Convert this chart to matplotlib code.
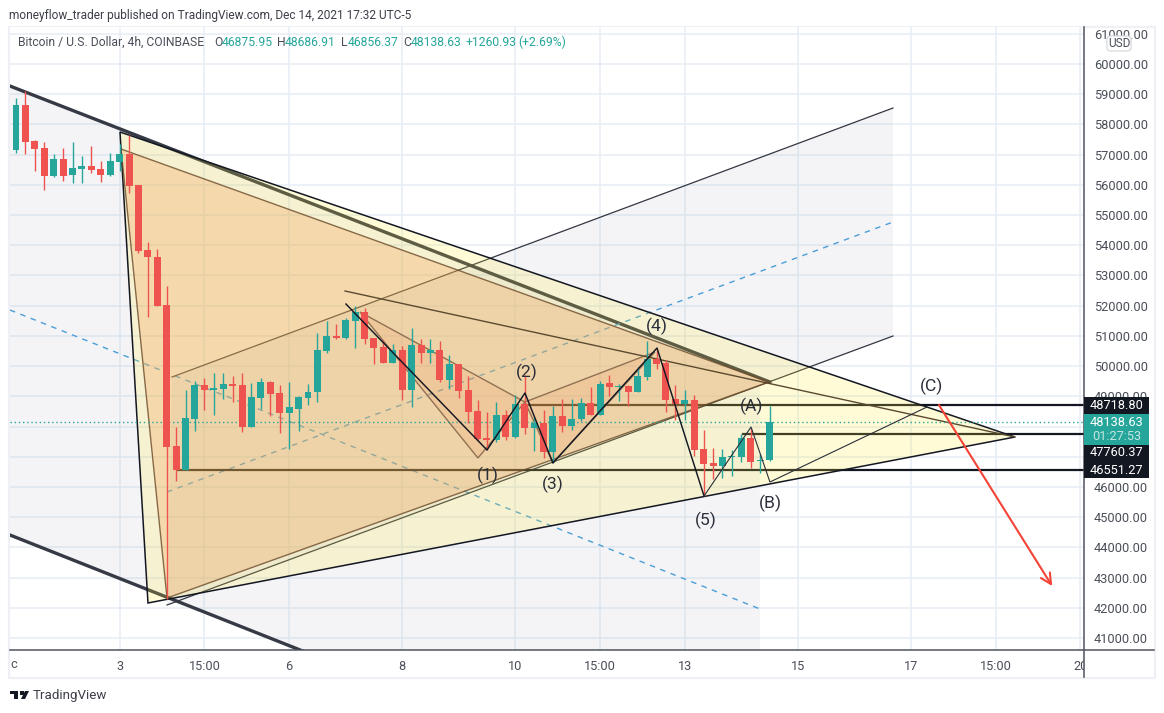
import matplotlib
matplotlib.use('Agg')
import matplotlib.pyplot as plt
from matplotlib.lines import Line2D
from matplotlib.patches import Rectangle, Polygon, FancyBboxPatch
from matplotlib.transforms import Bbox

plt.rcParams['font.family'] = ['Roboto', 'DejaVu Sans']

# 4h candles, Dec 2 2021 onward
opens = [57153, 58642, 57451, 57219, 56292, 56855, 56325, 56524, 56623, 56524, 56325, 56756, 57021, 55994,
         53843, 53611, 52022, 47355, 46561, 48249, 49374, 49209, 49242, 49408, 49374, 47984, 48944, 49474,
         49110, 48448, 48580, 48944, 49143, 50500, 50996, 50930, 51493, 51791, 50930, 50632, 50103, 50533,
         49209, 50698, 50434, 50533, 49540, 50070, 49209, 48514, 47620, 47554, 48381, 47653, 48746, 47951,
         48117, 47157, 48348, 48017, 48249, 48779, 48381, 49441, 49308, 49341, 49143, 49639, 50235, 50103,
         48911, 48746, 48878, 47256, 46793, 46693, 46991, 46991, 47620, 46859, 46875.95]
highs = [58874, 59106, 57484, 57418, 57021, 57219, 57418, 56954, 57285, 56789, 57054, 57352, 57649, 55994,
         54108, 53876, 52651, 47984, 49209, 49507, 49606, 49772, 49772, 49672, 49772, 49441, 49606, 49507,
         49374, 49474, 49010, 49408, 51096, 51493, 51394, 51592, 51989, 51923, 50930, 50864, 50732, 50665,
         51261, 50897, 50897, 50831, 50367, 50070, 49672, 48878, 48481, 48812, 48547, 49043, 49706, 48315,
         48547, 48679, 48911, 48911, 48944, 49308, 49507, 49706, 49408, 49374, 49970, 50831, 50566, 50202,
         49374, 49209, 49043, 47885, 47289, 47256, 47223, 47753, 47951, 47090, 48686.91]
lows = [57054, 57021, 56458, 55829, 56259, 56127, 56061, 56061, 56392, 56094, 56292, 56458, 55730, 53744,
        51625, 51989, 42291, 46197, 46561, 47852, 48547, 48381, 48911, 48812, 47819, 47984, 48580, 48348,
        47786, 47256, 47852, 48712, 48812, 50434, 50897, 50897, 50599, 50732, 50070, 50103, 50103, 48878,
        48646, 50103, 50103, 49474, 49242, 48944, 48117, 47554, 47223, 47488, 47554, 47620, 47753, 47190,
        46958, 46826, 47819, 47885, 48183, 48381, 48381, 49010, 48845, 48679, 49143, 49540, 49904, 48481,
        48216, 48216, 47024, 45700, 46263, 46296, 46362, 46826, 46627, 46462, 46856.37]
closes = [58642, 57418, 57186, 56292, 56855, 56292, 56557, 56623, 56491, 56325, 56789, 57021, 55961, 53810,
          53611, 51989, 47322, 46561, 48282, 49374, 49209, 49275, 49408, 49341, 47984, 48977, 49474, 49077,
          48448, 48646, 48977, 49143, 50533, 50996, 50930, 51526, 51791, 50897, 50599, 50103, 50533, 49209,
          50698, 50434, 50533, 49540, 50070, 49176, 48481, 47587, 47554, 48381, 47653, 48746, 47951, 48117,
          47157, 48348, 48017, 48249, 48779, 48381, 49408, 49308, 49341, 49143, 49672, 50235, 50070, 48878,
          48746, 48878, 47223, 46760, 46693, 46991, 47024, 47620, 46826, 46892, 48138.63]

x_tick_pos = [11, 20, 29, 41, 53, 62, 71, 83, 95, 104, 113]
x_tick_labels = ['3', '15:00', '6', '8', '10', '15:00', '13', '15', '17', '15:00', '20']
y_ticks = list(range(41000, 62000, 1000))
# these two sit fully behind the price tags
hidden_y_labels = [47000, 48000]

# drawings, (bar index, price)
big_triangle = [(11.04, 57749), (14.01, 42159), (106.05, 47653)]
orange_triangle = [(11.15, 57186), (16.03, 42324), (79.94, 49474)]
harmonic_a = [(36.52, 51791), (49.04, 46958), (54.03, 48812)]
harmonic_b = [(54.03, 48812), (57.0, 46793), (67.83, 50467)]
channel_top = [(-0.64, 59271), (80.04, 49474)]
channel_bottom = [(-0.64, 44409), (31, 40500)]
channel_mid = [(-0.64, 51857), (78.98, 41960)]
channel_shade = [(-0.64, 59271), (78.98, 49606), (78.98, 40500), (31, 40500), (-0.64, 44409)]
fork_top = [(16.56, 49639), (93.1, 58543)]
fork_mid = [(16.03, 45833), (93.1, 54770)]
fork_low = [(16.03, 42092), (93.1, 50996)]
pennant_line = [(34.93, 52486), (106.05, 47653)]
wave_impulse = [(35.03, 52056), (50.0, 47223), (54.03, 49110), (57.0, 46793), (68.05, 50599), (73.04, 45700)]
wave_abc = [(73.04, 45700), (78.03, 47984), (80.04, 46164), (96.71, 48646)]
hlines = [(48718.80, 54.03), (47760.37, 77.07), (46551.27, 17.09)]
wave_labels = [('(1)', 50.1, 46400), ('(2)', 54.2, 49800), ('(3)', 57.0, 46100), ('(4)', 68.0, 51330),
               ('(5)', 73.2, 44900), ('(A)', 78.1, 48670), ('(B)', 80.1, 45470), ('(C)', 97.2, 49340)]
arrow_start = (97.98, 48712)
arrow_end = (110.0, 42721)
last_price = 48138.63

W, H = 1164, 713
RED = '#ef5350'
TEAL = '#26a69a'
GRID = '#e6eef4'
TEXT = '#4a4e58'
AXIS = '#50535e'


def xs(points):
    return [p[0] for p in points]


def ys(points):
    return [p[1] for p in points]


def fx(px):
    return px / W


def fy(py):
    return 1 - py / H


fig = plt.figure(figsize=(W / 100, H / 100), dpi=100, facecolor='white')
ax = fig.add_axes([fx(10), fy(650), (1084 - 10) / W, (650 - 27) / H])
ax.set_xlim(-0.637, 113.38)
ax.set_ylim(40603, 61225)

ax.set_axisbelow(True)
ax.grid(color=GRID, lw=1.1)
ax.set_xticks(x_tick_pos, x_tick_labels)
ax.set_yticks(y_ticks, ['' if v in hidden_y_labels else '%.2f' % v for v in y_ticks])
ax.yaxis.tick_right()
ax.tick_params(length=0, labelcolor=TEXT, labelsize=9.2)
ax.tick_params(axis='y', pad=7)
ax.tick_params(axis='x', pad=7)
for side in ax.spines:
    ax.spines[side].set_visible(False)

# "20" is cut off by the price axis
ax.get_xticklabels()[-1].set_clip_box(Bbox([[10, 0], [1084, H]]))
ax.get_xticklabels()[-1].set_clip_on(True)

# shaded channels
ax.add_patch(Polygon(channel_shade, closed=True, fc='#7a7fa0', alpha=0.08, ec='none', zorder=1))
ax.add_patch(Polygon(fork_top + fork_low[::-1], closed=True, fc='#7a7fa0', alpha=0.08, ec='none', zorder=1))

# lines under the triangles
ax.plot(xs(channel_top), ys(channel_top), color='#363a45', lw=2.4, zorder=2)
ax.plot(xs(channel_bottom), ys(channel_bottom), color='#363a45', lw=2.4, zorder=2)
ax.plot(xs(channel_mid), ys(channel_mid), color='#4a9ed8', lw=1, ls=(0, (4, 4)), zorder=2)
ax.plot(xs(fork_mid), ys(fork_mid), color='#4a9ed8', lw=1, ls=(0, (4, 4)), zorder=2)
ax.plot(xs(fork_top), ys(fork_top), color='#333742', lw=0.9, zorder=2)
ax.plot(xs(fork_low), ys(fork_low), color='#333742', lw=0.9, zorder=2)
for price, start in hlines:
    ax.plot([start, 113.38], [price, price], color='#131722', lw=1.6, zorder=2, solid_capstyle='butt')

# triangles
ax.add_patch(Polygon(big_triangle, closed=True, fc='#ffeb3b', alpha=0.2, ec='none', zorder=3))
ax.add_patch(Polygon(big_triangle, closed=True, fc='none', ec='#131722', lw=1.1, zorder=3.5))
ax.add_patch(Polygon(orange_triangle, closed=True, fc='#f59a50', alpha=0.28, ec='none', zorder=3))
ax.add_patch(Polygon(orange_triangle, closed=True, fc='none', ec='#6b4a2a', lw=1, alpha=0.8, zorder=3.5))
for tri in [harmonic_a, harmonic_b]:
    ax.add_patch(Polygon(tri, closed=True, fc='#e8733c', alpha=0.12, ec='none', zorder=3))
    ax.add_patch(Polygon(tri, closed=True, fc='none', ec='#7a5a40', lw=1, alpha=0.8, zorder=3.5))
ax.plot(xs(pennant_line), ys(pennant_line), color='#5a4a30', lw=1, zorder=3.5)

# last price
ax.axhline(last_price, color=TEAL, lw=1, ls=(0, (1, 2)), zorder=3.6)

# candles
index = list(range(len(opens)))
colors = [TEAL if c >= o else RED for o, c in zip(opens, closes)]
ax.vlines(index, lows, highs, colors=colors, lw=1, zorder=4)
ax.bar(index, [abs(c - o) for o, c in zip(opens, closes)], bottom=[min(o, c) for o, c in zip(opens, closes)],
       width=0.74, color=colors, zorder=4.1)

# wave counts
ax.plot(xs(wave_impulse), ys(wave_impulse), color='#131722', lw=1.05, zorder=5)
ax.plot(xs(wave_abc), ys(wave_abc), color='#2a2e39', lw=0.8, zorder=5)
for label, x, y in wave_labels:
    ax.text(x, y, label, fontsize=12.6, color='#2a2e39', ha='center', va='center', zorder=6)
ax.annotate('', xy=arrow_end, xytext=arrow_start, zorder=6,
            arrowprops=dict(arrowstyle='->,head_length=0.75,head_width=0.38', color='#f44336', lw=1.5,
                            shrinkA=0, shrinkB=0))

# outer frame and the axis lines, which run on past the plot area
fig.add_artist(Rectangle((fx(9), fy(677.5)), 1145.5 / W, 651 / H, transform=fig.transFigure,
                         fc='none', ec='#eef0f5', lw=1.6, zorder=0))
fig.add_artist(Line2D([fx(10), fx(1154)], [fy(650), fy(650)], color=AXIS, lw=1.1, zorder=2))
fig.add_artist(Line2D([fx(1084), fx(1084)], [fy(27), fy(677)], color=AXIS, lw=1.1, zorder=2))

# price tags on the axis
tag_kw = dict(transform=fig.transFigure, ec='none', zorder=3)
fig.add_artist(Rectangle((fx(1084), fy(414)), 65 / W, 17 / H, fc='#131722', **tag_kw))
fig.add_artist(Rectangle((fx(1084), fy(445)), 65 / W, 31 / H, fc=TEAL, **tag_kw))
fig.add_artist(Rectangle((fx(1084), fy(478)), 65 / W, 33 / H, fc='#131722', **tag_kw))
for label, py, col in [('48718.80', 405.5, 'white'), ('48138.63', 423, 'white'), ('01:27:53', 436, '#c4e6e2'),
                       ('47760.37', 453, 'white'), ('46551.27', 470, 'white')]:
    fig.text(fx(1116.5), fy(py), label, color=col, fontsize=9.2, ha='center', va='center', zorder=4)

# USD badge
fig.add_artist(FancyBboxPatch((fx(1107), fy(51)), 24 / W, 15 / H, boxstyle='round,pad=0,rounding_size=0.004',
                              transform=fig.transFigure, fc='white', ec='#d6d9e0', lw=0.9, zorder=3))
fig.text(fx(1119), fy(43.5), 'USD', color=TEXT, fontsize=8.6, ha='center', va='center', zorder=4)

# header
fig.text(fx(9), fy(15), 'moneyflow_trader published on TradingView.com, Dec 14, 2021 17:32 UTC-5',
         color='#3c3f48', fontsize=8.6, ha='left', va='center')
legend_parts = [(18, 'Bitcoin / U.S. Dollar, 4h, COINBASE', TEXT), (214, 'O', TEXT), (222, '46875.95', TEAL),
                (277, 'H', TEXT), (285, '48686.91', TEAL), (341, 'L', TEXT), (348, '46856.37', TEAL),
                (403, 'C', TEXT), (411, '48138.63', TEAL), (466, '+1260.93', TEAL), (518, '(+2.69%)', TEAL)]
for px, label, col in legend_parts:
    fig.text(fx(px), fy(42), label, color=col, fontsize=8.7, ha='left', va='center', zorder=4)

# left edge of the time axis, then the logo
fig.text(fx(14), fy(664), 'c', color=TEXT, fontsize=9.2, ha='center', va='center')
fig.add_artist(Polygon([(fx(10), fy(691)), (fx(18), fy(691)), (fx(18), fy(699)), (fx(14), fy(699)), (fx(14), fy(694)),
                        (fx(10), fy(694))], closed=True, transform=fig.transFigure, fc='#131722', ec='none'))
fig.add_artist(Polygon([(fx(25), fy(691)), (fx(29), fy(691)), (fx(25), fy(699)), (fx(21), fy(699))], closed=True,
                       transform=fig.transFigure, fc='#131722', ec='none'))
fig.add_artist(Polygon([(fx(19.5), fy(691)), (fx(23.5), fy(691)), (fx(23.5), fy(694.5)), (fx(19.5), fy(694.5))],
                       closed=True, transform=fig.transFigure, fc='#131722', ec='none'))
fig.text(fx(33), fy(695), 'TradingView', color='#3c3f48', fontsize=9.6, ha='left', va='center')

fig.savefig('out.png', dpi=100)
